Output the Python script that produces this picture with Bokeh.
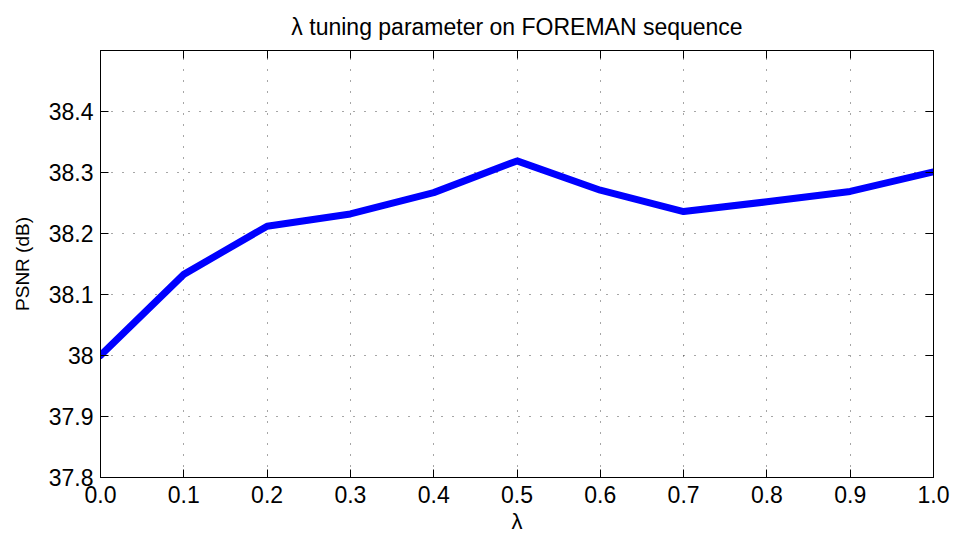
from bokeh.plotting import figure
from bokeh.models import Range1d, LinearAxis, FixedTicker
from bokeh.embed import file_html
from bokeh.resources import INLINE

# PSNR versus the lambda tuning parameter
lam = [0.0, 0.1, 0.2, 0.3, 0.4, 0.5, 0.6, 0.7, 0.8, 0.9, 1.0]
psnr = [38.000, 38.133, 38.212, 38.232, 38.267, 38.319, 38.271, 38.236, 38.252, 38.269, 38.301]

x_ticks = [0.0, 0.1, 0.2, 0.3, 0.4, 0.5, 0.6, 0.7, 0.8, 0.9, 1.0]
x_labels = ["0.0", "0.1", "0.2", "0.3", "0.4", "0.5", "0.6", "0.7", "0.8", "0.9", "1.0"]
y_ticks = [37.8, 37.9, 38.0, 38.1, 38.2, 38.3, 38.4]
y_labels = ["37.8", "37.9", "38", "38.1", "38.2", "38.3", "38.4"]

FONT = "Liberation Sans"

p = figure(width=953, height=536, output_backend="svg", toolbar_location=None,
           x_range=Range1d(0.0, 1.0), y_range=Range1d(37.8, 38.5),
           x_axis_label="λ", y_axis_label="PSNR (dB)",
           min_border_left=100, min_border_right=20, min_border_top=50, min_border_bottom=57)

p.title.text = "λ tuning parameter on FOREMAN sequence"
p.title.align = "center"
p.title.text_font = FONT
p.title.text_font_size = "23px"
p.title.text_font_style = "normal"
p.title.text_color = "black"
p.title.standoff = 21

p.outline_line_color = "black"
p.outline_line_width = 1

def style_axis(ax, ticks, labels, show_labels=True):
    ax.ticker = FixedTicker(ticks=ticks)
    ax.major_label_overrides = {t: l for t, l in zip(ticks, labels)}
    ax.major_tick_in = 8
    ax.major_tick_out = 0
    ax.minor_tick_line_color = None
    ax.axis_line_color = "black"
    ax.major_tick_line_color = "black"
    ax.major_label_text_font = FONT
    ax.major_label_text_font_size = "23px"
    ax.major_label_text_color = "black"
    ax.axis_label_text_font = FONT
    ax.axis_label_text_font_size = "19px"
    ax.axis_label_text_font_style = "normal"
    ax.axis_label_text_color = "black"
    if not show_labels:
        ax.major_label_text_font_size = "0px"
        ax.major_label_text_alpha = 0
        ax.major_label_standoff = 0

style_axis(p.xaxis[0], x_ticks, x_labels)
style_axis(p.yaxis[0], y_ticks, y_labels)
p.xaxis[0].major_label_standoff = 8
p.xaxis[0].axis_label_standoff = 3
p.xaxis[0].axis_label_text_font_size = "22px"
p.yaxis[0].major_label_standoff = 7
p.yaxis[0].axis_label_standoff = 13

top_ax = LinearAxis()
style_axis(top_ax, x_ticks, x_labels, show_labels=False)
right_ax = LinearAxis()
style_axis(right_ax, y_ticks, y_labels, show_labels=False)
p.add_layout(top_ax, "above")
p.add_layout(right_ax, "right")

for g in (p.xgrid[0], p.ygrid[0]):
    g.grid_line_color = "#222222"
    g.grid_line_dash = "1 10"
    g.grid_line_width = 1
    g.grid_line_alpha = 0.8
p.xgrid[0].ticker = FixedTicker(ticks=x_ticks)
p.ygrid[0].ticker = FixedTicker(ticks=y_ticks)

p.line(lam, psnr, line_color="#0000ff", line_width=7, line_join="round", line_cap="round")

open("out.html", "w").write(file_html(p, INLINE))
